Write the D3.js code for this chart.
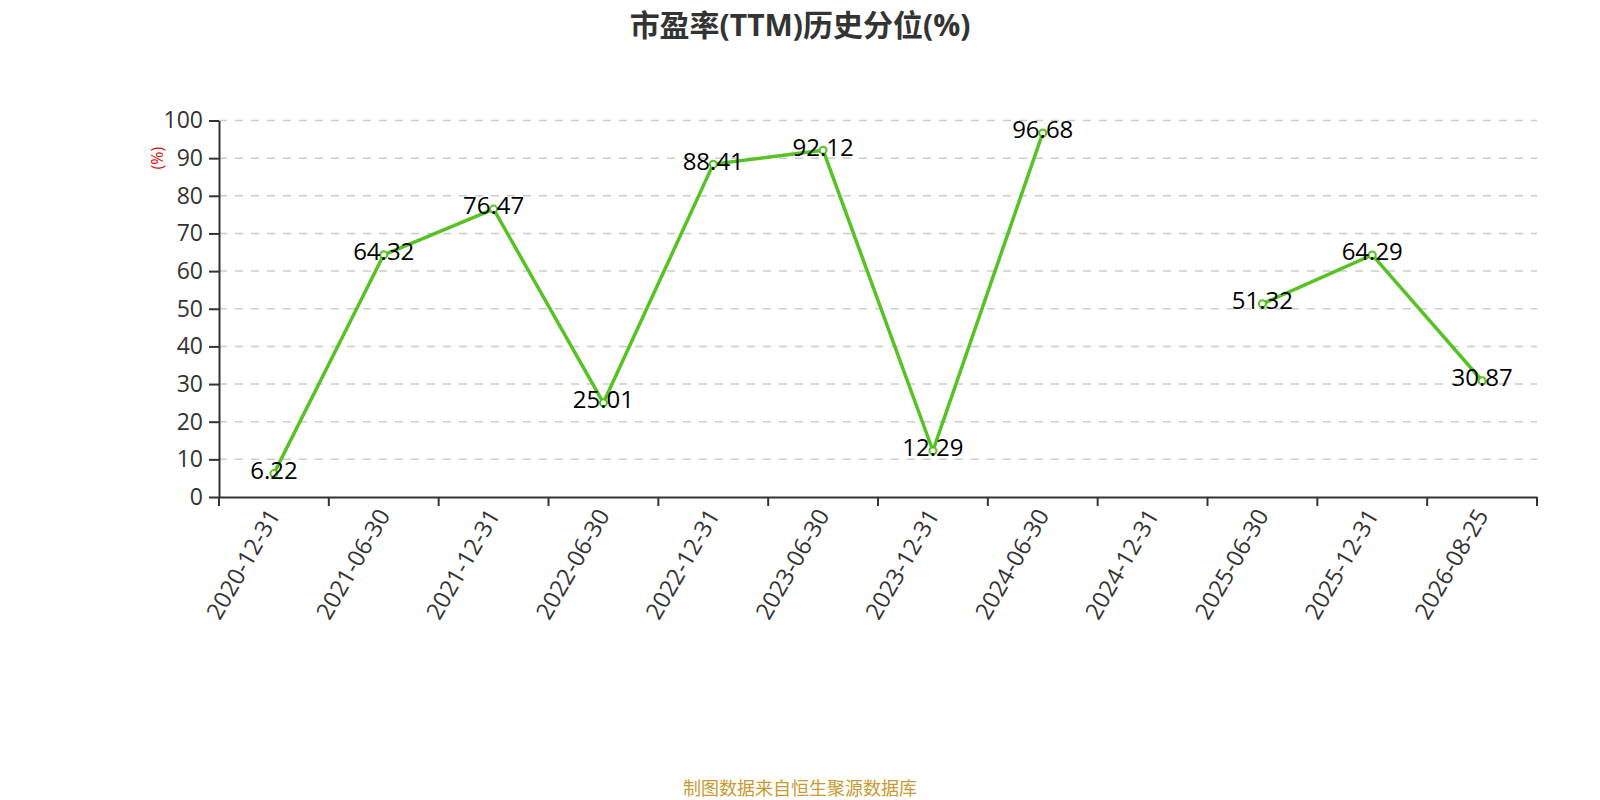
<!DOCTYPE html>
<html>
<head>
<meta charset="utf-8">
<script src="https://cdn.jsdelivr.net/npm/d3@7"></script>
<style>
  body { margin: 0; background: #fff; }
  svg text { font-family: "Open Sans", "Noto Sans CJK SC", sans-serif; }
</style>
</head>
<body>
<div class="chart"></div>
<script>
// datos del grafico
var fechas = ["2020-12-31", "2021-06-30", "2021-12-31", "2022-06-30", "2022-12-31", "2023-06-30",
              "2023-12-31", "2024-06-30", "2024-12-31", "2025-06-30", "2025-12-31", "2026-08-25"];
var percentiles = [6.22, 64.32, 76.47, 25.01, 88.41, 92.12, 12.29, 96.68, null, 51.32, 64.29, 30.87];
var yTicks = [0, 10, 20, 30, 40, 50, 60, 70, 80, 90, 100];
var titulo = "市盈率(TTM)历史分位(%)";
var fuente = "制图数据来自恒生聚源数据库";

var width = 1600;
var height = 800;
var margin = { top: 120.5, right: 63, bottom: 303, left: 219 };

var svg = d3.select("div.chart")
    .append("svg")
    .attr("width", width)
    .attr("height", height);

var x = d3.scaleBand()
    .domain(fechas)
    .range([margin.left, width - margin.right]);

var y = d3.scaleLinear()
    .domain([0, 100])
    .range([height - margin.bottom, margin.top]);

// lineas de la rejilla
svg.append("g")
    .selectAll("line")
    .data(yTicks.slice(1))
    .enter()
    .append("line")
    .attr("x1", margin.left)
    .attr("x2", width - margin.right)
    .attr("y1", d => y(d))
    .attr("y2", d => y(d))
    .attr("stroke", "#ccc")
    .attr("stroke-width", 1.5)
    .attr("stroke-dasharray", "8,8");

// eje y
var ejeY = svg.append("g")
    .attr("transform", `translate(${margin.left},0)`)
    .call(d3.axisLeft(y).tickValues(yTicks).tickSize(10).tickPadding(6).tickSizeOuter(0));
ejeY.select(".domain").attr("stroke", "#333").attr("stroke-width", 2);
ejeY.selectAll(".tick line").attr("stroke", "#333").attr("stroke-width", 2);
ejeY.selectAll(".tick text")
    .attr("fill", "#333")
    .style("font-size", "23px");

// eje x
var ejeX = svg.append("g")
    .attr("transform", `translate(0,${y(0)})`)
    .call(d3.axisBottom(x).tickSize(0).tickFormat(""));
ejeX.select(".domain").attr("stroke", "#333").attr("stroke-width", 2);

// ticks en los bordes de cada banda
var bordes = fechas.map(d => x(d)).concat([x.range()[1]]);
svg.append("g")
    .selectAll("line")
    .data(bordes)
    .enter()
    .append("line")
    .attr("x1", d => d)
    .attr("x2", d => d)
    .attr("y1", y(0))
    .attr("y2", y(0) + 9)
    .attr("stroke", "#333")
    .attr("stroke-width", 2);

svg.append("g")
    .selectAll("text")
    .data(fechas)
    .enter()
    .append("text")
    .attr("transform", d => `translate(${x(d) + x.bandwidth() / 2},${y(0) + 14}) rotate(-60)`)
    .attr("text-anchor", "end")
    .attr("dy", "0.35em")
    .attr("fill", "#333")
    .style("font-size", "23.5px")
    .text(d => d);

// titulo del eje y
svg.append("text")
    .attr("transform", `translate(157,${y(90)}) rotate(-90)`)
    .attr("text-anchor", "middle")
    .attr("dy", "0.35em")
    .attr("fill", "#e01010")
    .style("font-size", "16px")
    .text("(%)");

// la linea
var puntos = fechas.map((d, i) => ({ fecha: d, valor: percentiles[i] }));
var linea = d3.line()
    .defined(d => d.valor != null)
    .x(d => x(d.fecha) + x.bandwidth() / 2)
    .y(d => y(d.valor));

svg.append("path")
    .datum(puntos)
    .attr("d", linea)
    .attr("fill", "none")
    .attr("stroke", "#56c224")
    .attr("stroke-width", 3.5)
    .attr("stroke-linejoin", "round");

var conValor = puntos.filter(d => d.valor != null);

svg.append("g")
    .selectAll("circle")
    .data(conValor)
    .enter()
    .append("circle")
    .attr("cx", d => x(d.fecha) + x.bandwidth() / 2)
    .attr("cy", d => y(d.valor))
    .attr("r", 3.5)
    .attr("fill", "#fff")
    .attr("stroke", "#56c224")
    .attr("stroke-width", 2);

// etiquetas de valores
svg.append("g")
    .selectAll("text")
    .data(conValor)
    .enter()
    .append("text")
    .attr("x", d => x(d.fecha) + x.bandwidth() / 2)
    .attr("y", d => y(d.valor) - 3)
    .attr("text-anchor", "middle")
    .attr("dy", "0.35em")
    .attr("fill", "#000")
    .style("font-size", "24px")
    .text(d => d3.format(".2f")(d.valor));

// titulo
svg.append("text")
    .attr("x", width / 2)
    .attr("y", 25)
    .attr("text-anchor", "middle")
    .attr("dy", "0.35em")
    .attr("fill", "#333")
    .style("font-size", "30px")
    .style("font-weight", "bold")
    .text(titulo);

// fuente
svg.append("text")
    .attr("x", width / 2)
    .attr("y", 789)
    .attr("text-anchor", "middle")
    .attr("dy", "0.35em")
    .attr("fill", "#c89a30")
    .style("font-size", "18px")
    .text(fuente);
</script>
</body>
</html>
